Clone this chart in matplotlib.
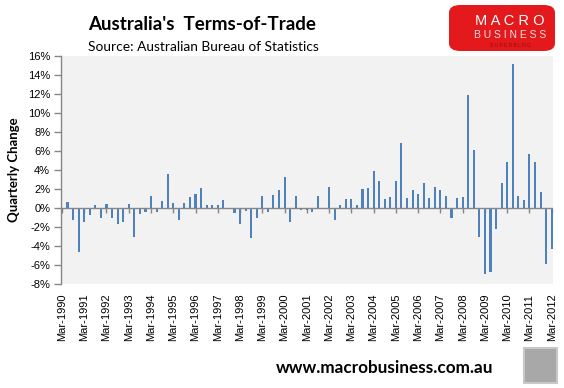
import numpy as np
import matplotlib
matplotlib.use("Agg")
import matplotlib.pyplot as plt
from matplotlib.patches import FancyBboxPatch, Rectangle

# ---- data ----
years = list(range(1990, 2013))
year_labels = ["Mar-%d" % y for y in years]
quarterly_change = [
    -0.3, 0.65, -1.23, -4.6, -1.5, -0.77, 0.33, -1.0, 0.46, -1.0,
    -1.72, -1.5, 0.46, -3.0, -0.67, -0.37, 1.3, -0.37, 0.78, 3.62,
    0.57, -1.3, 0.57, 1.2, 1.51, 2.15, 0.27, 0.35, 0.27, 0.88,
    0.0, -0.56, -1.72, -0.35, -3.2, -1.1, 1.3, -0.46, 1.4, 1.93,
    3.3, -1.5, 1.3, -0.25, -0.22, -0.46, 1.3, -0.12, 2.26, -1.22,
    0.35, 0.98, 0.98, 0.35, 2.02, 2.15, 3.85, 2.88, 0.95, 1.17,
    2.86, 6.8, 1.06, 1.9, 1.48, 2.65, 1.06, 2.22, 1.9, 1.27,
    -1.02, 1.08, 1.2, 11.9, 6.08, -3.0, -6.93, -6.7, -2.26, 2.58,
    4.8, 15.2, 1.3, 0.88, 5.65, 4.8, 1.73, -5.87, -4.28,
]
y_ticks = list(range(-8, 17, 2))

W, H = 564, 388
fig = plt.figure(figsize=(W / 100, H / 100), dpi=100)
fig.patch.set_facecolor("white")

def fx(px):
    return px / W

def fy(py):
    return 1 - py / H

left, right, top, bottom = 61.3, 552.7, 56, 284
ax = fig.add_axes([fx(left), fy(bottom), fx(right - left), (bottom - top) / H])
ax.set_facecolor("#F2F2F2")

x = np.arange(len(quarterly_change))
ax.bar(x, quarterly_change, width=0.38, color="#4F81BD", zorder=2)
ax.set_xlim(-0.12, len(quarterly_change) - 1 + 0.18)
ax.set_ylim(-8, 16)

grey = "#868686"
for s in ["top", "right", "bottom"]:
    ax.spines[s].set_visible(False)
ax.spines["left"].set_color(grey)
ax.spines["left"].set_linewidth(1.0)

ax.set_yticks(y_ticks)
ax.set_yticklabels(["%d%%" % v for v in y_ticks], fontsize=8, family="Liberation Sans")
ax.tick_params(axis="y", direction="out", length=5, width=1, color=grey, pad=3)

year_pos = x[::4]
ax.set_xticks(year_pos)
ax.set_xticklabels(year_labels, rotation=90, fontsize=8, family="Liberation Sans")
ax.tick_params(axis="x", length=0, pad=7)

# zero axis line with year tick marks
ax.axhline(0, color=grey, lw=1.0, zorder=3)
sec = ax.secondary_xaxis(8 / 24)
sec.set_xticks(year_pos)
sec.set_xticklabels([])
sec.tick_params(axis="x", direction="out", length=3.5, width=1, color=grey)
sec.spines["bottom"].set_visible(False)

fig.text(fx(14), fy(170), "Quarterly Change", fontsize=9.5, fontweight="bold",
         family="Lato", rotation=90, ha="center", va="center")

# titles
fig.text(fx(88), fy(25), "Australia's  Terms-of-Trade", fontsize=13.5, fontweight="bold",
         family="Lato", va="center", ha="left")
fig.text(fx(88), fy(47), "Source: Australian Bureau of Statistics", fontsize=9.9,
         family="Lato", va="center", ha="left")

# logo box
logo = FancyBboxPatch((fx(449), fy(51)), fx(106), (51 - 5) / H,
                      boxstyle="round,pad=0,rounding_size=0.02",
                      transform=fig.transFigure, facecolor="#E3191C",
                      edgecolor="none", zorder=1)
fig.patches.append(logo)
fig.text(fx(510), fy(21), "M A C R O", fontsize=10.5, color="white", ha="center",
         va="center", family="Liberation Sans")
fig.text(fx(510), fy(35.5), "B U S I N E S S", fontsize=7.5, color="#FFE0E0",
         ha="center", va="center", family="Liberation Sans")
fig.text(fx(510), fy(45.5), "S U P E R B L O G", fontsize=3.5, color="#8A1010",
         ha="center", va="center", family="Liberation Sans")

# footer
fig.text(fx(385), fy(368), "www.macrobusiness.com.au", fontsize=12.3, fontweight="bold",
         family="Lato", ha="center", va="center")
wolf = Rectangle((fx(524), fy(383)), fx(33), 35 / H, transform=fig.transFigure,
                 facecolor="#A8A8A8", edgecolor="#C8C8C8", lw=1.5)
fig.patches.append(wolf)

fig.savefig("out.png", dpi=100)
